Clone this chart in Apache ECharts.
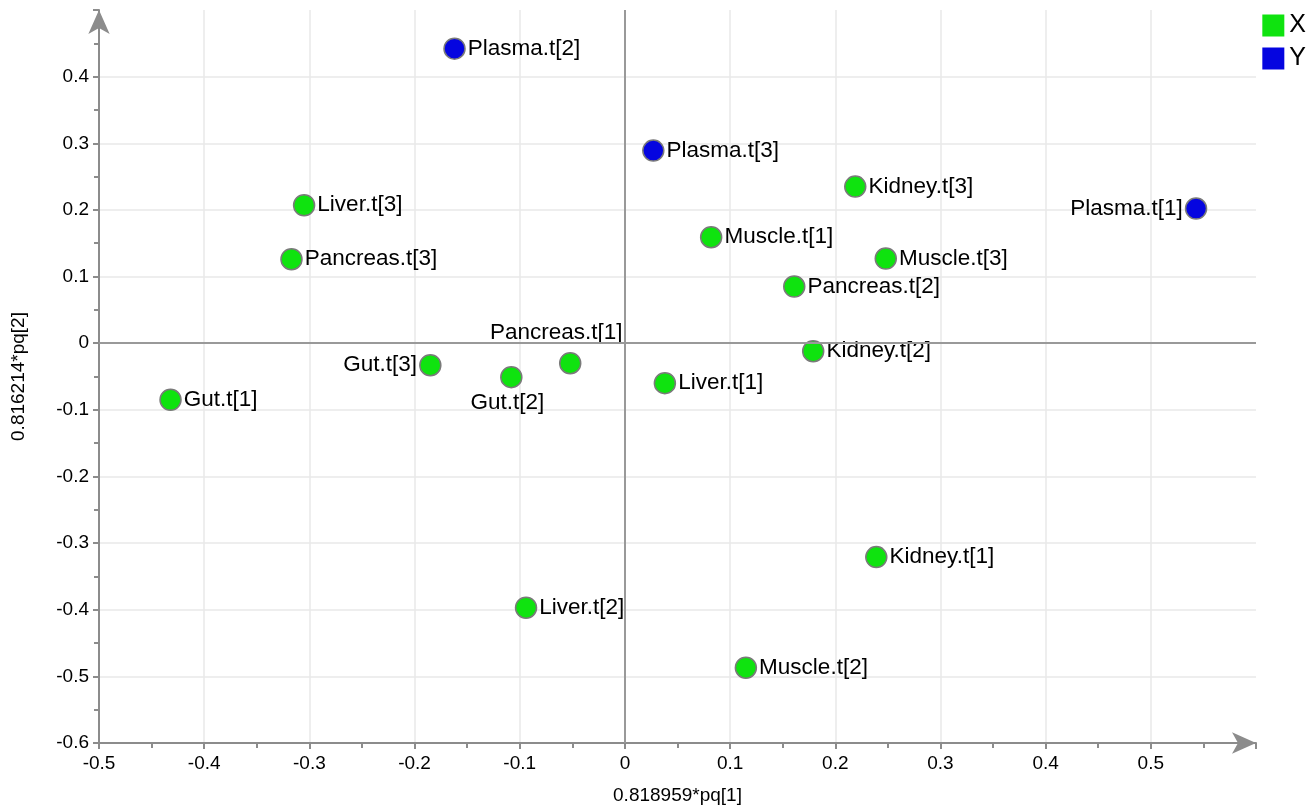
<!DOCTYPE html>
<html><head><meta charset="utf-8">
<script src="https://cdn.jsdelivr.net/npm/echarts@6/dist/echarts.min.js"></script>
<style>html,body{margin:0;padding:0;background:#fff}#c{width:1313px;height:805px}</style>
</head><body><div id="c"></div>
<script>
const xNames = ["Kidney.t[3]","Liver.t[3]","Muscle.t[1]","Muscle.t[3]","Pancreas.t[3]","Pancreas.t[2]","Kidney.t[2]","Gut.t[3]","Pancreas.t[1]","Gut.t[2]","Liver.t[1]","Gut.t[1]","Kidney.t[1]","Liver.t[2]","Muscle.t[2]"];
const xPx = [0.219,-0.305,0.082,0.248,-0.317,0.161,0.179,-0.185,-0.052,-0.108,0.038,-0.432,0.239,-0.094,0.115];
const xPy = [0.235,0.207,0.159,0.127,0.126,0.085,-0.012,-0.033,-0.030,-0.051,-0.060,-0.085,-0.321,-0.397,-0.487];
const xLabelPos = ["right","right","right","right","right","right","right","left","top","bottom","right","right","right","right","right"];
const yNames = ["Plasma.t[2]","Plasma.t[3]","Plasma.t[1]"];
const yPx = [-0.162,0.027,0.543];
const yPy = [0.442,0.289,0.202];
const yLabelPos = ["right","right","left"];
const xAxisTitle = "0.818959*pq[1]";
const yAxisTitle = "0.816214*pq[2]";

function mk(names, px, py, pos){
  return names.map((n,i)=>{
    const d = {name:n, value:[px[i],py[i]], label:{position:pos[i]}};
    if(pos[i]==="top") d.label.offset=[-14,-6];
    if(pos[i]==="bottom") d.label.offset=[-4,1];
    return d;
  });
}
const font = "Liberation Sans, Arial, sans-serif";
const gray = '#8c8c8c';
const chart = echarts.init(document.getElementById('c'));
chart.setOption({
  animation:false,
  grid:{left:99,right:57,top:10,bottom:62,containLabel:false,outerBoundsMode:'none'},
  legend:{orient:'vertical',right:2,top:8,itemWidth:22,itemHeight:22,itemGap:8,
    icon:'rect',itemStyle:{borderWidth:0},
    textStyle:{fontSize:25,lineHeight:22,fontFamily:font,color:'#000'},
    data:['X','Y']},
  xAxis:{type:'value',min:-0.5,max:0.6,interval:0.1,
    name:xAxisTitle,nameLocation:'middle',nameGap:43,
    nameTextStyle:{fontSize:19,fontFamily:font,color:'#000'},
    axisLine:{show:true,onZero:false,symbol:['none','arrow'],symbolSize:[16,24],lineStyle:{color:gray,width:2}},
    axisTick:{show:true,length:6,lineStyle:{color:gray,width:2}},
    minorTick:{show:true,splitNumber:2,length:5,lineStyle:{color:gray,width:2}},
    splitLine:{show:true,showMaxLine:false,lineStyle:{color:'#e8e8e8',width:1.5}},
    axisLabel:{fontSize:19,fontFamily:font,color:'#000',margin:11,
      formatter:v=>Math.abs(v-0.6)<1e-6?'':(+v.toFixed(1)).toString()}},
  yAxis:{type:'value',min:-0.6,max:0.5,interval:0.1,
    name:yAxisTitle,nameLocation:'middle',nameGap:71,
    nameTextStyle:{fontSize:19,fontFamily:font,color:'#000'},
    axisLine:{show:true,onZero:false,symbol:['none','arrow'],symbolSize:[16,24],lineStyle:{color:gray,width:2}},
    axisTick:{show:true,length:6,lineStyle:{color:gray,width:2}},
    minorTick:{show:true,splitNumber:2,length:5,lineStyle:{color:gray,width:2}},
    splitLine:{show:true,showMaxLine:false,lineStyle:{color:'#e8e8e8',width:1.5}},
    axisLabel:{fontSize:19,fontFamily:font,color:'#000',margin:10,
      formatter:v=>Math.abs(v-0.5)<1e-6?'':(+v.toFixed(1)).toString()}},
  series:[
    {name:'X',type:'scatter',symbolSize:21,z:3,
      itemStyle:{color:'#0fe30f',borderColor:'#7a7a7a',borderWidth:1.5,opacity:1},
      label:{show:true,formatter:'{b}',fontSize:22.5,fontFamily:font,color:'#000',distance:2},
      data:mk(xNames,xPx,xPy,xLabelPos),
      markLine:{silent:true,symbol:'none',label:{show:false},animation:false,
        lineStyle:{color:'#999',width:2,type:'solid'},
        data:[{xAxis:0},{yAxis:0}]}},
    {name:'Y',type:'scatter',symbolSize:21,z:3,
      itemStyle:{color:'#0505e0',borderColor:'#7a7a7a',borderWidth:1.5,opacity:1},
      label:{show:true,formatter:'{b}',fontSize:22.5,fontFamily:font,color:'#000',distance:2},
      data:mk(yNames,yPx,yPy,yLabelPos)}
  ]
});
</script></body></html>
